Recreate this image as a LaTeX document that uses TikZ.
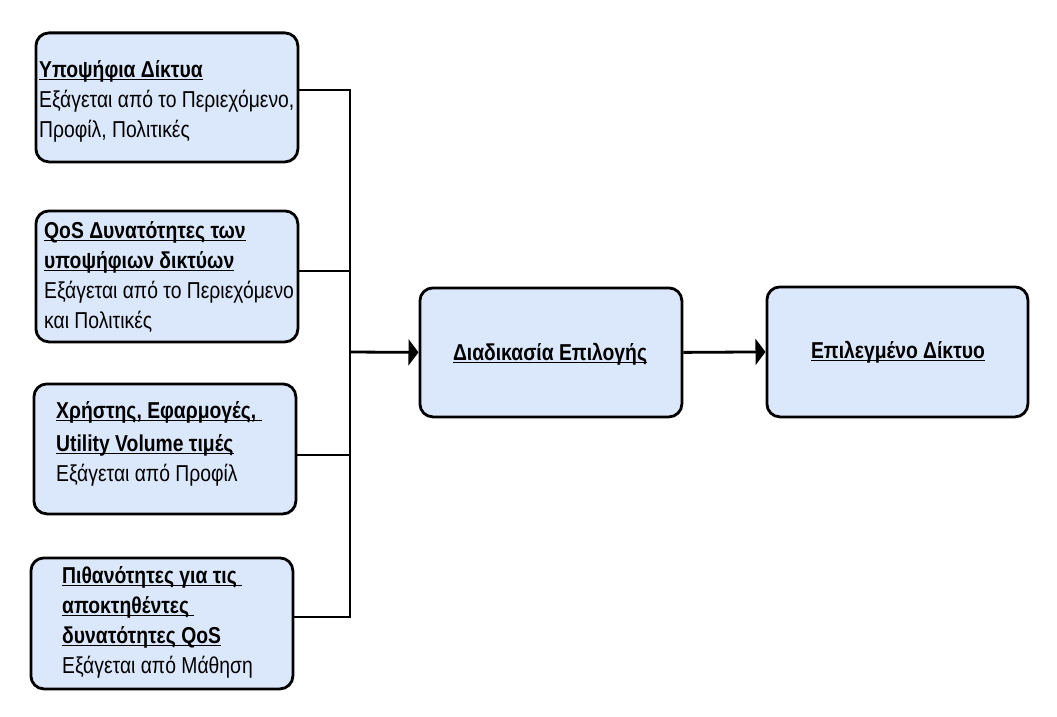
\documentclass[tikz,border=0pt]{standalone}
\usepackage{fontspec}
\setmainfont[FakeStretch=0.84]{Liberation Sans}
\usetikzlibrary{arrows.meta}
\definecolor{boxfill}{RGB}{219,232,251}
\newcommand\ulx[1]{\setbox0\hbox{#1}\rlap{\rule[-3pt]{\wd0}{1.4pt}}\box0}
\begin{document}
\begin{tikzpicture}[x=1pt,y=-1pt,
  box/.style={draw=black, line width=2.8pt, fill=boxfill, rounded corners=13pt,
    anchor=north west, inner sep=0pt},
  txt/.style={anchor=base west, align=left, inner sep=0pt,
    font=\fontsize{23}{30}\selectfont},
  ctxt/.style={anchor=base, inner sep=0pt, font=\fontsize{23}{30}\selectfont\bfseries},
  conn/.style={line width=2.8pt, line join=miter},
  arr/.style={conn, -{Triangle[length=10pt,width=26pt]}}]
\useasboundingbox (0,0) rectangle (1057,717);
% boxes
\node[box, minimum width=262pt, minimum height=129pt] (b1) at (34.5,31.5) {};
\node[box, minimum width=262pt, minimum height=131pt] (b2) at (34.5,209.5) {};
\node[box, minimum width=262pt, minimum height=130pt] (b3) at (32.5,382.5) {};
\node[box, minimum width=262pt, minimum height=131pt] (b4) at (29.5,556.5) {};
\node[box, minimum width=262pt, minimum height=129pt] (b5) at (418.5,286.5) {};
\node[box, minimum width=261pt, minimum height=130pt] (b6) at (765.5,285.5) {};
% texts (base = baseline of last line)
\node[txt] (t1) at (39,137) {\bfseries\ulx{Υποψήφια Δίκτυα}\\Εξάγεται από το Περιεχόμενο,\\Προφίλ, Πολιτικές};
\node[txt] (t2) at (44,328) {\bfseries\ulx{QoS Δυνατότητες των}\\\bfseries\ulx{υποψήφιων δικτύων}\\Εξάγεται από το Περιεχόμενο\\και Πολιτικές};
\node[txt] (t3) at (56,481) {\bfseries\ulx{Χρήστης, Εφαρμογές, }\\[3pt]\bfseries\ulx{Utility Volume τιμές}\\Εξάγεται από Προφίλ};
\node[txt] (t4) at (62,673) {\bfseries\ulx{Πιθανότητες για τις }\\\bfseries\ulx{αποκτηθέντες }\\\bfseries\ulx{δυνατότητες QoS}\\Εξάγεται από Μάθηση};
\node[ctxt] (t5) at (550,360) {\ulx{Διαδικασία Επιλογής}};
\node[ctxt] (t6) at (898,358) {\ulx{Επιλεγμένο Δίκτυο}};
% connectors
\coordinate (j1) at (350,90);
\coordinate (j2) at (350,271);
\coordinate (j3) at (350,455);
\coordinate (j4) at (350,617);
\coordinate (jm) at (350,352);
\draw[conn] (b1.east |- j1) -- (j1) -- (j4) -- (b4.east |- j4);
\draw[conn] (b2.east |- j2) -- (j2);
\draw[conn] (b3.east |- j3) -- (j3);
\draw[arr] (jm) -- (b5.west);
\draw[arr] (b5.east) -- (b6.west);
\end{tikzpicture}
\end{document}
